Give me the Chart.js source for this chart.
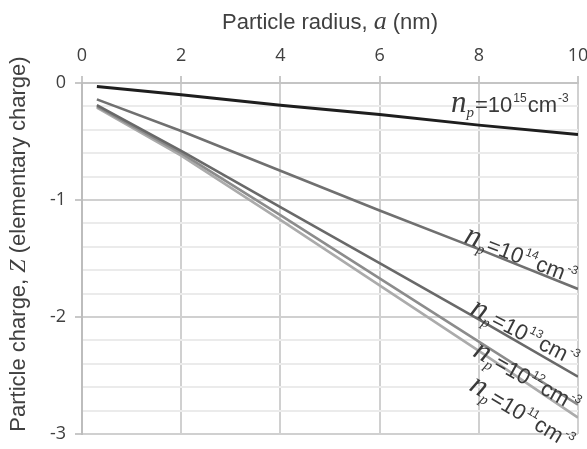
<!DOCTYPE html>
<html>
<head>
<meta charset="utf-8">
<script src="https://cdn.jsdelivr.net/npm/chart.js@4.4.0/dist/chart.umd.min.js"></script>
<style>
  html, body { margin: 0; padding: 0; background: #fff; overflow: hidden; }
  #caixa { width: 587px; height: 449px; }
</style>
</head>
<body>
<div id="caixa"><canvas id="graficoCarga"></canvas></div>
<script>
/* ============================================================
DADOS — raio (nm) x carga (carga elementar)
============================================================ */

const raio = [0.3, 2, 4, 6, 8, 10];

const carga15 = [-0.03, -0.1, -0.19, -0.27, -0.36, -0.44];
const carga14 = [-0.14, -0.41, -0.75, -1.09, -1.42, -1.76];
const carga13 = [-0.19, -0.58, -1.06, -1.54, -2.02, -2.51];
const carga12 = [-0.2, -0.6, -1.13, -1.67, -2.21, -2.75];
const carga11 = [-0.21, -0.62, -1.17, -1.73, -2.29, -2.86];

const expoentes = ["15", "14", "13", "12", "11"];

const ticksX = [0, 2, 4, 6, 8, 10];
const ticksY = [0, -1, -2, -3];

/* ============================================================
ESTILO
============================================================ */

const fonteSans = "'Liberation Sans', Arial, sans-serif";
const fonteTicks = "'Open Sans', 'Noto Sans', sans-serif";
const fonteMat = "'Liberation Serif', 'DejaVu Serif', serif";

const cores = ["#1e1e1e", "#707070", "#696969", "#8c8c8c", "#ababab"];
const larguras = [3, 2.6, 2.6, 2.6, 2.6];

// onde fica cada rótulo n_p (em unidades dos eixos) e a inclinação
const posRotulos = [
  { x: 7.44, y: -0.25, ang: 0 },
  { x: 7.68, y: -1.36, ang: 21 },
  { x: 7.8, y: -1.97, ang: 27 },
  { x: 7.86, y: -2.33, ang: 29 },
  { x: 7.78, y: -2.62, ang: 31 },
];

function ehInteiro(v) {
  return Math.abs(v - Math.round(v)) < 1e-6;
}

/* ============================================================
PLUGIN — títulos dos eixos (com itálico matemático)
============================================================ */

function desenharPartes(ctx, partes, x, y) {
  let cx = x;
  partes.forEach((p) => {
    ctx.font = p.font;
    ctx.fillText(p.txt, cx, y + (p.dy || 0));
    cx += ctx.measureText(p.txt).width + (p.gap || 0);
  });
  return cx - x;
}

function larguraPartes(ctx, partes) {
  let w = 0;
  partes.forEach((p) => {
    ctx.font = p.font;
    w += ctx.measureText(p.txt).width + (p.gap || 0);
  });
  return w;
}

const titulosPlugin = {
  id: "titulosEixos",
  afterDraw(chart) {
    const { ctx, chartArea } = chart;
    ctx.save();
    ctx.fillStyle = "#404040";
    ctx.textBaseline = "alphabetic";
    ctx.textAlign = "left";

    const tituloX = [
      { txt: "Particle radius, ", font: `22px ${fonteSans}` },
      { txt: "a", font: `italic 26px ${fonteMat}` },
      { txt: " (nm)", font: `22px ${fonteSans}` },
    ];
    const wx = larguraPartes(ctx, tituloX);
    const meioX = (chartArea.left + chartArea.right) / 2;
    desenharPartes(ctx, tituloX, meioX - wx / 2, 29);

    const tituloY = [
      { txt: "Particle charge, ", font: `22px ${fonteSans}` },
      { txt: "Z", font: `italic 24px ${fonteMat}` },
      { txt: " (elementary charge)", font: `22px ${fonteSans}` },
    ];
    const wy = larguraPartes(ctx, tituloY);
    ctx.translate(25, 244);
    ctx.rotate(-Math.PI / 2);
    desenharPartes(ctx, tituloY, -wy / 2, 0);
    ctx.restore();
  },
};

/* ============================================================
PLUGIN — rótulos n_p = 10^k cm^-3 ao longo das curvas
============================================================ */

const rotulosPlugin = {
  id: "rotulosCurvas",
  afterDatasetsDraw(chart) {
    const { ctx, scales } = chart;
    ctx.save();
    ctx.fillStyle = "#3a3a3a";
    ctx.textAlign = "left";
    ctx.textBaseline = "alphabetic";

    posRotulos.forEach((r, i) => {
      const px = scales.x.getPixelForValue(r.x);
      const py = scales.y.getPixelForValue(r.y);

      ctx.save();
      ctx.translate(px, py);
      ctx.rotate((r.ang * Math.PI) / 180);

      desenharPartes(ctx, [
        { txt: "n", font: `italic 31px ${fonteMat}` },
        { txt: "p", font: `italic 15px ${fonteMat}`, dy: 5, gap: 1 },
        { txt: "=10", font: `22px ${fonteSans}`, gap: 1 },
        { txt: expoentes[i], font: `12px ${fonteSans}`, dy: -10, gap: 1 },
        { txt: "cm", font: `22px ${fonteSans}`, gap: 1 },
        { txt: "-3", font: `12px ${fonteSans}`, dy: -10 },
      ], 0, 0);

      ctx.restore();
    });

    ctx.restore();
  },
};

/* ============================================================
GRÁFICO
============================================================ */

const series = [carga15, carga14, carga13, carga12, carga11];

new Chart(document.getElementById("graficoCarga"), {
  type: "line",
  data: {
    labels: raio,
    datasets: series.map((s, i) => ({
      label: "n_p=10^" + expoentes[i],
      data: raio.map((r, k) => ({ x: r, y: s[k] })),
      borderColor: cores[i],
      borderWidth: larguras[i],
      pointRadius: 0,
      tension: 0,
      fill: false,
      order: i === 0 ? 0 : 1,
    })),
  },
  options: {
    responsive: true,
    maintainAspectRatio: false,
    animation: false,
    layout: { padding: { left: 0, top: 0, right: 9, bottom: 15 } },
    plugins: {
      legend: { display: false },
      tooltip: { enabled: false },
    },
    scales: {
      x: {
        type: "linear",
        position: "top",
        min: 0,
        max: 10,
        afterFit(scale) {
          scale.height = 83;
          scale.paddingLeft = 0;
          scale.paddingRight = 0;
        },
        afterBuildTicks(scale) {
          scale.ticks = ticksX.map((v) => ({ value: v }));
        },
        ticks: {
          font: { family: fonteTicks, size: 18 },
          color: "#404040",
          padding: 9,
          maxRotation: 0,
          autoSkip: false,
        },
        grid: {
          color: "#d0d0d0",
          lineWidth: 2,
          tickLength: 7,
          tickColor: "#c8c8c8",
        },
        border: { display: true, color: "#c4c4c4", width: 2 },
      },
      y: {
        type: "linear",
        min: -3,
        max: 0,
        afterFit(scale) {
          scale.width = 82;
          scale.paddingTop = 0;
          scale.paddingBottom = 0;
        },
        ticks: {
          stepSize: 0.2,
          autoSkip: false,
          font: { family: fonteTicks, size: 18 },
          color: "#404040",
          padding: 9,
          callback: (v) => (ehInteiro(v) && ticksY.includes(Math.round(v)) ? String(Math.round(v)) : ""),
        },
        grid: {
          color: (c) => (ehInteiro(c.tick.value) ? "#d0d0d0" : "#ebebeb"),
          lineWidth: 2,
          tickLength: 7,
          tickColor: (c) => (ehInteiro(c.tick.value) ? "#c8c8c8" : "rgba(0,0,0,0)"),
        },
        border: { display: true, color: "#bdbdbd", width: 2 },
      },
    },
  },
  plugins: [titulosPlugin, rotulosPlugin],
});
</script>
</body>
</html>
